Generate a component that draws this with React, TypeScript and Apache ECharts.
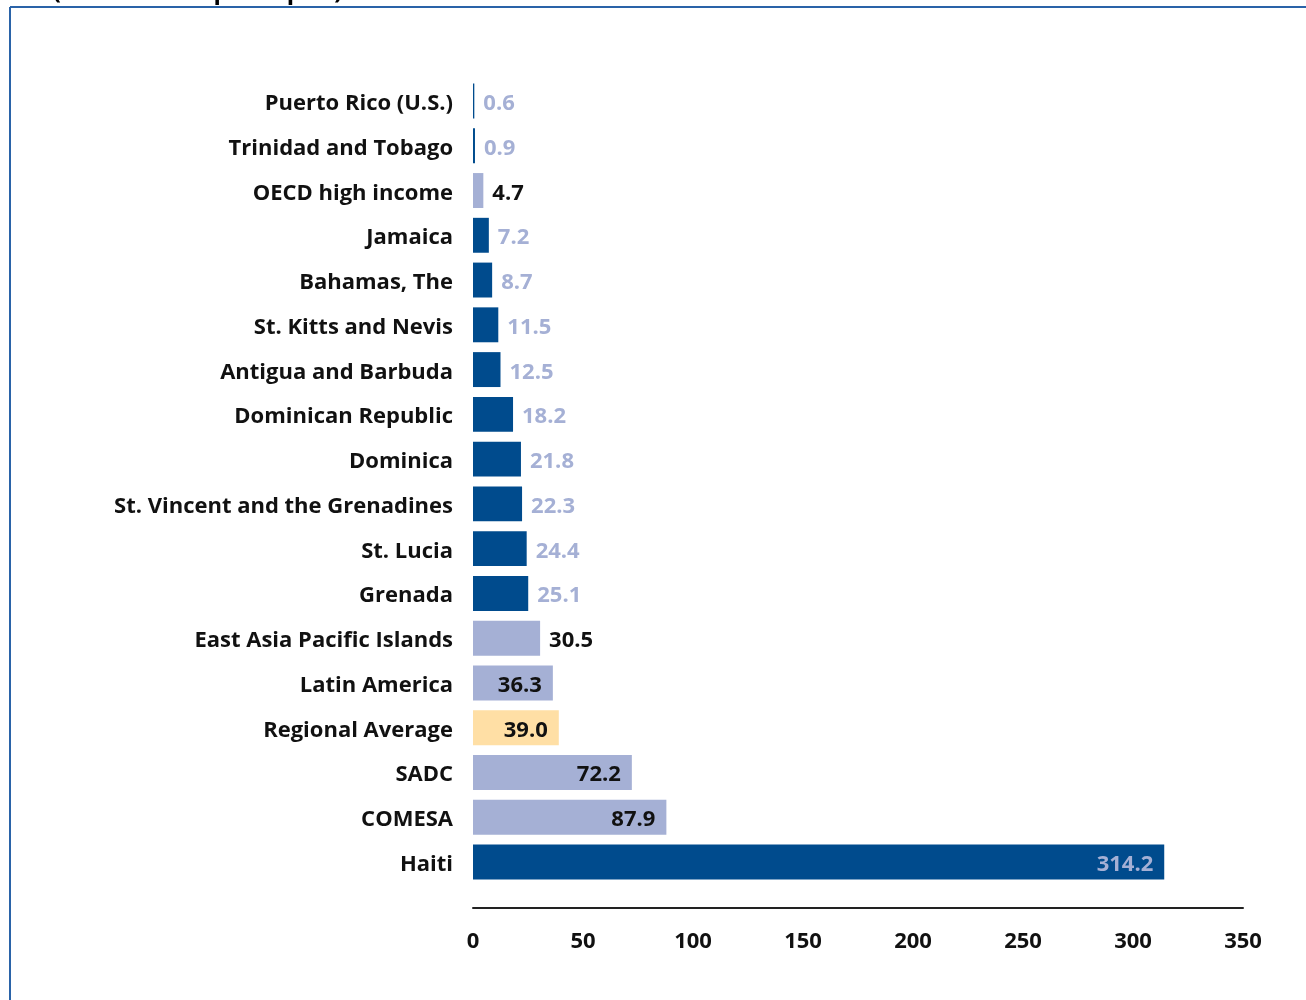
import React, { useEffect, useRef } from "react";
import * as echarts from "echarts";

const categories = [
  "Puerto Rico (U.S.)",
  "Trinidad and Tobago",
  "OECD high income",
  "Jamaica",
  "Bahamas, The",
  "St. Kitts and Nevis",
  "Antigua and Barbuda",
  "Dominican Republic",
  "Dominica",
  "St. Vincent and the Grenadines",
  "St. Lucia",
  "Grenada",
  "East Asia Pacific Islands",
  "Latin America",
  "Regional Average",
  "SADC",
  "COMESA",
  "Haiti",
];
const values = [0.6, 0.9, 4.7, 7.2, 8.7, 11.5, 12.5, 18.2, 21.8, 22.3, 24.4, 25.1, 30.5, 36.3, 39.0, 72.2, 87.9, 314.2];
// group: "c" = Caribbean country, "b" = benchmark, "a" = regional average
const groups = ["c", "c", "b", "c", "c", "c", "c", "c", "c", "c", "c", "c", "b", "b", "a", "b", "b", "c"];
// label placement: "o" outside, "i" inside
const labelPlace = ["o", "o", "o", "o", "o", "o", "o", "o", "o", "o", "o", "o", "o", "i", "i", "i", "i", "i"];
const xTicks = { min: 0, max: 350, interval: 50 };
const titleText = "Cost (% of income per capita)";

const DARK = "#004b8d";
const LIGHT = "#a5b0d5";
const YELLOW = "#ffdfa5";
const FONT = "'Open Sans', 'Noto Sans', sans-serif";

export default function App() {
  const ref = useRef<HTMLDivElement>(null);
  useEffect(() => {
    if (!ref.current) return;
    const chart = echarts.init(ref.current, null, { renderer: "svg" });
    const data = values.map((v, i) => {
      const g = groups[i];
      const color = g === "c" ? DARK : g === "a" ? YELLOW : LIGHT;
      const labelColor = g === "c" ? LIGHT : "#111111";
      const inside = labelPlace[i] === "i";
      return {
        value: v,
        itemStyle: { color },
        label: {
          show: true,
          position: inside ? "insideRight" : "right",
          distance: inside ? 11 : 9,
          color: labelColor,
          fontFamily: FONT,
          fontWeight: "bold",
          fontSize: 22,
          formatter: (p: any) => Number(p.value).toFixed(1),
        },
      };
    });
    chart.setOption({
      animation: false,
      grid: { left: 473, right: 63, top: 78.6, height: 805.8, containLabel: false },
      xAxis: {
        type: "value",
        min: xTicks.min,
        max: xTicks.max,
        interval: xTicks.interval,
        offset: 23,
        axisLine: { show: true, lineStyle: { color: "#222222", width: 2 } },
        axisTick: { show: false },
        splitLine: { show: false },
        axisLabel: { color: "#111111", fontFamily: FONT, fontWeight: "bold", fontSize: 22, margin: 21 },
      },
      yAxis: {
        type: "category",
        inverse: true,
        data: categories,
        axisLine: { show: false },
        axisTick: { show: false },
        axisLabel: { color: "#111111", fontFamily: FONT, fontWeight: "bold", fontSize: 22, margin: 20 },
      },
      series: [
        {
          type: "bar",
          data,
          barCategoryGap: "22%",
        },
      ],
      graphic: [
        {
          type: "line",
          shape: { x1: 10, y1: 7, x2: 1306, y2: 7 },
          style: { stroke: "#2a63a8", lineWidth: 2 },
        },
        {
          type: "line",
          shape: { x1: 10, y1: 7, x2: 10, y2: 1000 },
          style: { stroke: "#2a63a8", lineWidth: 2 },
        },
        {
          type: "text",
          left: -6,
          top: -23,
          style: { text: titleText, fontFamily: FONT, fontWeight: "bold", fontSize: 24, fill: "#000000" },
        },
      ],
    });
    return () => chart.dispose();
  }, []);
  return <div ref={ref} style={{ position: "fixed", left: 0, top: 0, width: 1306, height: 1000 }} />;
}
